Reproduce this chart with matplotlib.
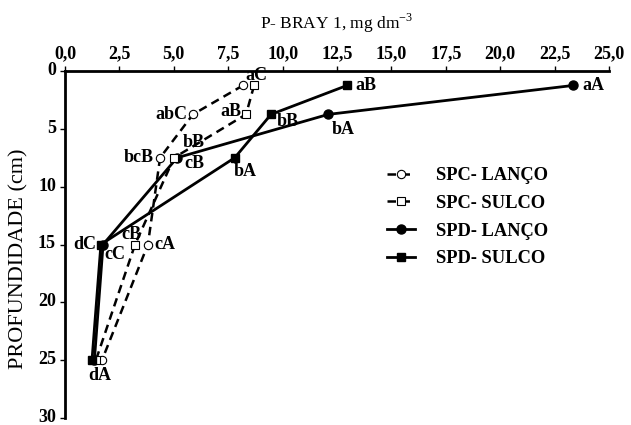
import matplotlib
matplotlib.use("Agg")
import matplotlib.pyplot as plt
from matplotlib.transforms import ScaledTranslation

# ---- data ----
depth = [1.25, 3.75, 7.5, 15, 25]
spc_lanco = [8.18, 5.88, 4.37, 3.81, 1.70]
spc_sulco = [8.69, 8.32, 5.01, 3.22, 1.42]
spd_lanco = [23.35, 12.1, 5.15, 1.75, 1.35]
spd_sulco = [12.96, 9.47, 7.8, 1.65, 1.24]
series_names = ["SPC- LANÇO", "SPC- SULCO", "SPD- LANÇO", "SPD- SULCO"]
x_ticks = [0, 2.5, 5, 7.5, 10, 12.5, 15, 17.5, 20, 22.5, 25]
x_ticklabels = ["0,0", "2,5", "5,0", "7,5", "10,0", "12,5", "15,0", "17,5", "20,0", "22,5", "25,0"]
y_ticks = [0, 5, 10, 15, 20, 25, 30]

# point labels: (series index, point index, text, dx px, dy px (down +), ha)
point_labels = [
    (1, 0, "aC", 2, -10, "center"),
    (0, 1, "abC", -6, 0, "right"),
    (0, 2, "bcB", -6, 0, "right"),
    (0, 3, "cA", 6, 0, "left"),
    (1, 1, "aB", -5, -3, "right"),
    (1, 2, "bB", 20, -15, "center"),
    (1, 3, "cB", -4, -10, "center"),
    (2, 0, "aA", 9, 0, "left"),
    (2, 1, "bA", 15, 15, "center"),
    (2, 2, "cB", 7, 6, "left"),
    (2, 3, "dC", -7, 0, "right"),
    (3, 0, "aB", 8, 0, "left"),
    (3, 1, "bB", 6, 7, "left"),
    (3, 2, "bA", 10, 14, "center"),
    (3, 3, "cC", 14, 10, "center"),
    (3, 4, "dA", 8, 15, "center"),
]

plt.rcParams["font.family"] = ["Liberation Serif", "DejaVu Serif"]

fig = plt.figure(figsize=(6.31, 4.25), dpi=100)
ax = fig.add_axes([65 / 631, 1 - 418 / 425, (609 - 65) / 631, (418 - 71) / 425])

all_series = [spc_lanco, spc_sulco, spd_lanco, spd_sulco]
styles = [
    dict(color="black", ls=(0, (3.4, 2.2)), lw=1.8, marker="o", ms=6, mfc="white", mec="black", mew=0.8),
    dict(color="black", ls=(0, (3.4, 2.2)), lw=1.8, marker="s", ms=6, mfc="white", mec="black", mew=0.8),
    dict(color="black", ls="-", lw=2.0, marker="o", ms=6.5, mfc="black", mec="black"),
    dict(color="black", ls="-", lw=2.0, marker="s", ms=6, mfc="black", mec="black"),
]
zorders = [3, 4, 2, 5]
handles = []
for vals, st, name, z in zip(all_series, styles, series_names, zorders):
    h, = ax.plot(vals, depth, label=name, zorder=z, clip_on=False, **st)
    handles.append(h)

for si, pi, txt, dx, dy, ha in point_labels:
    ax.annotate(txt, xy=(all_series[si][pi], depth[pi]), xytext=(dx * 0.72, -dy * 0.72),
                textcoords="offset points", ha=ha, va="center", fontsize=13,
                fontweight="bold", zorder=10)

ax.set_xlim(0, 25)
ax.set_ylim(30, 0)
ax.xaxis.tick_top()
ax.xaxis.set_label_position("top")
ax.set_xticks(x_ticks)
ax.set_xticklabels(x_ticklabels, fontsize=13, fontweight="bold")
ax.set_yticks(y_ticks)
ax.set_yticklabels([str(v) for v in y_ticks], fontsize=13, fontweight="bold")
ax.tick_params(axis="both", direction="out", length=3.5, width=1, pad=3, color="black")
# nudge y tick labels up slightly (as in the reference, keeps "30" inside the figure)
for lab in ax.get_yticklabels():
    lab.set_transform(lab.get_transform() + ScaledTranslation(0, 2.5 / 100, fig.dpi_scale_trans))
ax.spines["right"].set_visible(False)
ax.spines["bottom"].set_visible(False)
ax.spines["left"].set_linewidth(2)
ax.spines["top"].set_linewidth(2)

ax.set_xlabel("P- BRAY 1, mg dm$^{\\mathregular{-3}}$", fontsize=12.5, labelpad=12)
ax.set_ylabel("PROFUNDIDADE (cm)", fontsize=16)
ax.yaxis.set_label_coords(-0.068, 0.46)

leg = ax.legend(handles=handles, loc="upper left", bbox_to_anchor=(0.562, 0.771),
                frameon=False, handlelength=1.5, handletextpad=1.15, labelspacing=0.58,
                prop=dict(size=13.3, weight="bold"))

fig.savefig("out.png", dpi=100)
